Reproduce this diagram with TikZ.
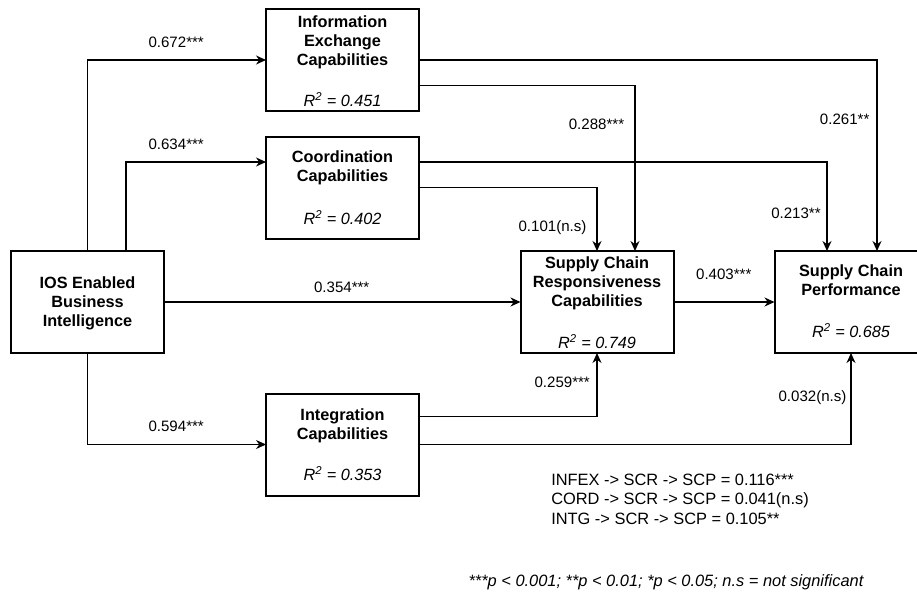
\documentclass[tikz,border=0pt]{standalone}
\usepackage{fontspec}
\setmainfont{Liberation Sans}
\usetikzlibrary{arrows.meta,calc}
\begin{document}
\begin{tikzpicture}[x=0.75pt,y=-0.75pt,
  box/.style={draw,line width=1.5pt,minimum width=114.75pt,minimum height=76.5pt,inner sep=0pt,outer sep=0pt},
  ttl/.style={font=\fontsize{12.2}{14.25}\selectfont\bfseries,align=center,inner sep=0pt},
  rsq/.style={font=\fontsize{12.2}{14.25}\selectfont\itshape,inner sep=0pt,anchor=base},
  lbl/.style={font=\fontsize{11.3}{13}\selectfont,inner sep=0pt},
  note/.style={font=\fontsize{12.3}{14.6}\selectfont,inner sep=0pt,align=left},
  conn/.style={line width=0.8pt,-{Stealth[length=7.5pt,width=6.75pt]}}]
\useasboundingbox (0,0) rectangle (917,593);
\clip (0,0) rectangle (917,593);
\fill[white] (0,0) rectangle (917,593);

% boxes
\node[box] (infex) at (342.5,60) {};
\node[box] (cord) at (342.5,187.5) {};
\node[box] (intg) at (342.5,444.5) {};
\node[box] (ios) at (87.5,302) {};
\node[box] (scr) at (597,302) {};
\node[box] (scp) at (851,302) {};

% box texts
\node[ttl] (infexT) at (342.5,41.8) {Information\\Exchange\\Capabilities};
\node[rsq] (infexR) at (342.5,106) {R\textsuperscript{2} = 0.451};
\node[ttl] (cordT) at (342.5,167.4) {Coordination\\Capabilities};
\node[rsq] (cordR) at (342.5,224) {R\textsuperscript{2} = 0.402};
\node[ttl] (intgT) at (342.5,425.3) {Integration\\Capabilities};
\node[rsq] (intgR) at (342.5,480.7) {R\textsuperscript{2} = 0.353};
\node[ttl] (iosT) at (87.5,303.3) {IOS Enabled\\Business\\Intelligence};
\node[ttl] (scrT) at (597,283.3) {Supply Chain\\Responsiveness\\Capabilities};
\node[rsq] (scrR) at (597,348.3) {R\textsuperscript{2} = 0.749};
\node[ttl] (scpT) at (851,280.3) {Supply Chain\\Performance};
\node[rsq] (scpR) at (851,337.7) {R\textsuperscript{2} = 0.685};

% connectors
\draw[conn] (ios.north) |- (infex.west);
\draw[conn] ($(ios.north)+(38.5,0)$) |- ($(cord.west)+(0,-25.5)$);
\draw[conn] (ios.south) |- (intg.west);
\draw[conn] (ios.east) -- (scr.west);
\draw[conn] (infex.east) -| ($(scp.north)+(26,0)$);
\draw[conn] ($(infex.east)+(0,25.7)$) -| ($(scr.north)+(38,0)$);
\draw[conn] ($(cord.east)+(0,-25.5)$) -| ($(scp.north)+(-24,0)$);
\draw[conn] (cord.east) -| (scr.north);
\draw[conn] (scr.east) -- (scp.west);
\draw[conn] ($(intg.east)+(0,-27.8)$) -| (scr.south);
\draw[conn] (intg.east) -| (scp.south);

% labels
\node[lbl] (l1) at (176.2,42.8) {0.672***};
\node[lbl] (l2) at (176.2,144.7) {0.634***};
\node[lbl] (l3) at (341.7,287.8) {0.354***};
\node[lbl] (l4) at (176.2,426.3) {0.594***};
\node[lbl] (l5) at (596.5,124.7) {0.288***};
\node[lbl] (l6) at (844.7,119.5) {0.261**};
\node[lbl] (l7) at (796,213.8) {0.213**};
\node[lbl] (l8) at (552.5,227.5) {0.101(n.s)};
\node[lbl] (l9) at (723.8,274.7) {0.403***};
\node[lbl] (l10) at (562.2,382) {0.259***};
\node[lbl] (l11) at (812.5,398) {0.032(n.s)};

% notes
\node[note,anchor=west] (ind) at (551,499.3) {INFEX -> SCR -> SCP = 0.116***\\CORD -> SCR -> SCP = 0.041(n.s)\\INTG -> SCR -> SCP = 0.105**};
\node[note,font=\fontsize{12.3}{14.6}\selectfont\itshape,anchor=base west] (foot) at (468.3,586) {***p < 0.001; **p < 0.01; *p < 0.05; n.s = not significant};
\end{tikzpicture}
\end{document}
